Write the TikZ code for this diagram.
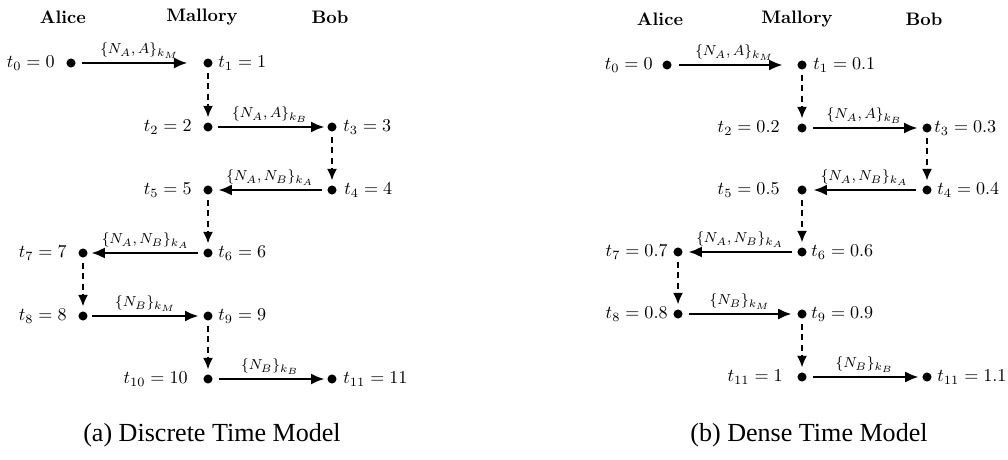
\documentclass[tikz,border=0pt]{standalone}
\usepackage{fontspec}
\newfontfamily\capfont{Liberation Serif}
\usetikzlibrary{arrows.meta}
\begin{document}
\begin{tikzpicture}[x=0.5525pt,y=-0.5525pt,
  dot/.style={circle,fill=black,inner sep=0pt,minimum size=5pt},
  head/.style={font=\bfseries,inner sep=0pt},
  tl/.style={inner sep=0pt},
  msg/.style={line width=1.6pt,-{Latex[length=7.5pt,width=6.2pt]}},
  wait/.style={line width=1.6pt,dash pattern=on 3.3pt off 2.3pt,-{Latex[length=6.5pt,width=5.6pt]},shorten <=3pt,shorten >=2.5pt},
  ml/.style={font=\footnotesize,above,inner sep=1.5pt,midway}]
\useasboundingbox (0,0) rectangle (1008,460);
% ===== (a) =====
\node[head] (ha) at (63,17) {Alice};
\node[head] (hm) at (202,17) {Mallory};
\node[head] (hb) at (330,17) {Bob};
\node[dot] (a1) at (71,63) {};
\node[dot] (m1) at (208,63) {};
\node[dot] (m2) at (208,127) {};
\node[dot] (b2) at (332,127) {};
\node[dot] (b3) at (332,190) {};
\node[dot] (m3) at (208,190) {};
\node[dot] (m4) at (208,253) {};
\node[dot] (a4) at (83,253) {};
\node[dot] (a5) at (83,316) {};
\node[dot] (m5) at (208,316) {};
\node[dot] (m6) at (208,379) {};
\node[dot] (b6) at (332,379) {};
\node[tl,anchor=east] (la1) at (55,63) {$t_0=0$};
\node[tl,anchor=west] (lm1) at (218,63) {$t_1=1$};
\node[tl,anchor=east] (lm2) at (192,127) {$t_2=2$};
\node[tl,anchor=west] (lb2) at (343,127) {$t_3=3$};
\node[tl,anchor=west] (lb3) at (344,190) {$t_4=4$};
\node[tl,anchor=east] (lm3) at (192,190) {$t_5=5$};
\node[tl,anchor=west] (lm4) at (218,253) {$t_6=6$};
\node[tl,anchor=east] (la4) at (67,253) {$t_7=7$};
\node[tl,anchor=east] (la5) at (67,316) {$t_8=8$};
\node[tl,anchor=west] (lm5) at (218,316) {$t_9=9$};
\node[tl,anchor=east] (lm6) at (188,379) {$t_{10}=10$};
\node[tl,anchor=west] (lb6) at (343,379) {$t_{11}=11$};
\draw[msg,shorten <=3.6pt,shorten >=8.6pt] (a1) -- node[ml] {$\{N_A,A\}_{k_M}$} (m1);
\draw[msg,shorten <=3pt,shorten >=1.4pt] (m2) -- node[ml] {$\{N_A,A\}_{k_B}$} (b2);
\draw[msg,shorten <=3pt,shorten >=3pt] (b3) -- node[ml] {$\{N_A,N_B\}_{k_A}$} (m3);
\draw[msg,shorten <=3pt,shorten >=1.9pt] (m4) -- node[ml] {$\{N_A,N_B\}_{k_A}$} (a4);
\draw[msg,shorten <=2.5pt,shorten >=2.5pt] (a5) -- node[ml] {$\{N_B\}_{k_M}$} (m5);
\draw[msg,shorten <=3.6pt,shorten >=1.4pt] (m6) -- node[ml] {$\{N_B\}_{k_B}$} (b6);
\draw[wait] (m1) -- (m2);
\draw[wait] (b2) -- (b3);
\draw[wait] (m3) -- (m4);
\draw[wait] (a4) -- (a5);
\draw[wait] (m5) -- (m6);
\node[font=\capfont\fontsize{14.4}{17}\selectfont,inner sep=0pt] (capa) at (212,435) {(a) Discrete Time Model};
% ===== (b) =====
\node[head] (hA) at (660,19) {Alice};
\node[head] (hM) at (797,19) {Mallory};
\node[head] (hB) at (924,19) {Bob};
\node[dot] (A1) at (667,65) {};
\node[dot] (M1) at (802,65) {};
\node[dot] (M2) at (802,128) {};
\node[dot] (B2) at (927,128) {};
\node[dot] (B3) at (927,190) {};
\node[dot] (M3) at (802,190) {};
\node[dot] (M4) at (802,252) {};
\node[dot] (A4) at (678,252) {};
\node[dot] (A5) at (678,314) {};
\node[dot] (M5) at (802,314) {};
\node[dot] (M6) at (802,377) {};
\node[dot] (B6) at (927,377) {};
\node[tl,anchor=east] (LA1) at (653,65) {$t_0=0$};
\node[tl,anchor=west] (LM1) at (813,65) {$t_1=0.1$};
\node[tl,anchor=east] (LM2) at (780,128) {$t_2=0.2$};
\node[tl,anchor=west] (LB2) at (934,128) {$t_3=0.3$};
\node[tl,anchor=west] (LB3) at (937,190) {$t_4=0.4$};
\node[tl,anchor=east] (LM3) at (780,190) {$t_5=0.5$};
\node[tl,anchor=west] (LM4) at (811,252) {$t_6=0.6$};
\node[tl,anchor=east] (LA4) at (668,252) {$t_7=0.7$};
\node[tl,anchor=east] (LA5) at (668,314) {$t_8=0.8$};
\node[tl,anchor=west] (LM5) at (811,314) {$t_9=0.9$};
\node[tl,anchor=east] (LM6) at (783,377) {$t_{11}=1$};
\node[tl,anchor=west] (LB6) at (937,377) {$t_{11}=1.1$};
\draw[msg,shorten <=4.1pt,shorten >=8pt] (A1) -- node[ml] {$\{N_A,A\}_{k_M}$} (M1);
\draw[msg,shorten <=3.6pt,shorten >=2.5pt] (M2) -- node[ml] {$\{N_A,A\}_{k_B}$} (B2);
\draw[msg,shorten <=3.6pt,shorten >=3.6pt] (B3) -- node[ml] {$\{N_A,N_B\}_{k_A}$} (M3);
\draw[msg,shorten <=3pt,shorten >=3pt] (M4) -- node[ml] {$\{N_A,N_B\}_{k_A}$} (A4);
\draw[msg,shorten <=3.6pt,shorten >=3pt] (A5) -- node[ml] {$\{N_B\}_{k_M}$} (M5);
\draw[msg,shorten <=3.6pt,shorten >=1.9pt] (M6) -- node[ml] {$\{N_B\}_{k_B}$} (B6);
\draw[wait] (M1) -- (M2);
\draw[wait] (B2) -- (B3);
\draw[wait] (M3) -- (M4);
\draw[wait] (A4) -- (A5);
\draw[wait] (M5) -- (M6);
\node[font=\capfont\fontsize{14.4}{17}\selectfont,inner sep=0pt] (capb) at (809,435) {(b) Dense Time Model};
\end{tikzpicture}
\end{document}
